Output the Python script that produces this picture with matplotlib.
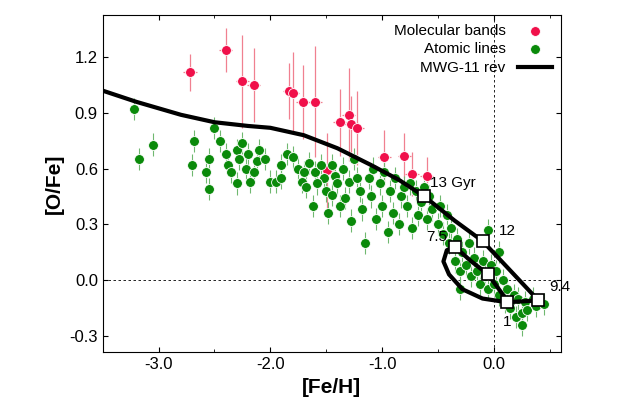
import numpy as np
import matplotlib.pyplot as plt

plt.rcParams['font.family'] = ['Liberation Sans', 'DejaVu Sans']

# molecular bands (red)
mol_feh = [-2.72, -2.40, -2.25, -2.15, -1.83, -1.80, -1.71, -1.60, -1.38, -1.30, -1.28, -1.22,
           -0.98, -0.80, -1.49, -0.60, -0.73]
mol_ofe = [1.12, 1.24, 1.07, 1.05, 1.02, 1.01, 0.96, 0.96, 0.85, 0.89, 0.84, 0.82,
           0.66, 0.67, 0.59, 0.56, 0.57]
mol_yerr = [0.10, 0.12, 0.25, 0.20, 0.15, 0.22, 0.20, 0.30, 0.18, 0.25, 0.15, 0.20,
            0.15, 0.12, 0.20, 0.10, 0.12]

# atomic lines (green)
atom = [(-3.22,0.92),(-3.18,0.65),(-3.05,0.73),(-2.7,0.62),(-2.68,0.75),(-2.58,0.58),(-2.55,0.49),
        (-2.55,0.65),(-2.5,0.82),(-2.45,0.75),(-2.4,0.68),(-2.38,0.62),(-2.35,0.58),(-2.3,0.70),
        (-2.28,0.65),(-2.25,0.74),(-2.22,0.60),(-2.2,0.68),(-2.18,0.53),(-2.15,0.58),(-2.12,0.64),
        (-2.1,0.70),(-2.05,0.65),(-2.0,0.53),(-1.95,0.53),(-1.9,0.62),(-1.85,0.68),(-1.8,0.66),
        (-1.75,0.60),(-1.72,0.53),(-1.68,0.50),(-1.65,0.63),(-1.62,0.40),(-1.6,0.58),(-1.55,0.62),
        (-1.52,0.55),(-1.5,0.48),(-1.48,0.36),(-1.45,0.62),(-1.42,0.56),(-1.4,0.52),(-1.38,0.40),
        (-1.35,0.60),(-1.33,0.44),(-1.3,0.53),(-1.28,0.32),(-1.25,0.65),(-1.22,0.55),(-1.2,0.48),
        (-1.18,0.38),(-1.15,0.20),(-1.12,0.55),(-1.1,0.45),(-1.08,0.60),(-1.05,0.33),(-1.02,0.52),
        (-1.0,0.40),(-0.98,0.58),(-0.95,0.26),(-0.93,0.48),(-0.9,0.36),(-0.88,0.55),(-0.85,0.30),
        (-0.83,0.45),(-0.8,0.50),(-0.78,0.40),(-0.75,0.52),(-0.73,0.28),(-0.7,0.48),(-0.68,0.35),
        (-0.65,0.42),(-0.62,0.50),(-0.6,0.33),(-0.58,0.45),(-0.55,0.38),(-0.5,0.30),(-0.48,0.40),
        (-0.45,0.25),(-0.42,0.35),(-0.4,0.20),(-0.38,0.28),(-0.35,0.10),(-0.33,0.22),(-0.3,0.05),
        (-0.28,0.15),(-0.25,0.08),(-0.22,0.20),(-0.2,0.02),(-0.18,0.12),(-0.15,0.05),(-0.12,-0.02),
        (-0.1,0.10),(-0.08,0.02),(-0.05,-0.05),(-0.02,0.08),(0.0,-0.02),(0.02,0.05),(0.05,-0.08),
        (0.08,0.0),(0.1,-0.12),(0.12,-0.05),(0.15,-0.15),(0.18,-0.08),(0.2,-0.2),(0.22,-0.1),
        (0.25,-0.18),(0.25,-0.24),(0.28,-0.12),(0.3,-0.16),(0.35,-0.10),(0.38,-0.14),(0.45,-0.13),
        (-1.9,0.55),(-2.3,0.52),(-1.58,0.52),(-1.7,0.58),(-0.05,0.27),(0.05,0.15),(-1.45,0.46),
        (-0.3,-0.05)]
atom_feh = [a[0] for a in atom]
atom_ofe = [a[1] for a in atom]

# MWG-11 rev model track
model_feh = [-3.6, -3.2, -2.8, -2.5, -2.2, -2.0, -1.7, -1.4, -1.1, -0.85, -0.62, -0.35, -0.1,
             0.15, 0.4, 0.12, -0.1, -0.28, -0.40, -0.45, -0.42, -0.35, -0.2, -0.05, 0.12]
model_ofe = [1.04, 0.96, 0.89, 0.85, 0.83, 0.82, 0.78, 0.71, 0.62, 0.54, 0.45, 0.32, 0.21,
             0.05, -0.11, -0.12, -0.10, -0.05, 0.03, 0.10, 0.16, 0.18, 0.10, 0.03, -0.11]
age_feh = [-0.62, -0.1, 0.4, 0.12, -0.35, -0.05]
age_ofe = [0.45, 0.21, -0.11, -0.12, 0.18, 0.03]
age_lab = ["13 Gyr", "12", "9.4", "1", "7.5", ""]
lab_pos = [(-0.57, 0.50), (0.05, 0.24), (0.5, -0.06), (0.08, -0.25), (-0.6, 0.21), (0, 0)]

fig, ax = plt.subplots(figsize=(6.23, 4.17), dpi=100)
ax.axhline(0, color='k', ls='--', lw=0.6, dashes=(3, 3))
ax.axvline(0, color='k', ls='--', lw=0.6, dashes=(3, 3))

ax.errorbar(mol_feh, mol_ofe, yerr=mol_yerr, xerr=0.06, fmt='none', ecolor='#f08090', lw=0.9)
ax.errorbar(atom_feh, atom_ofe, yerr=0.06, fmt='none', ecolor='#70b870', lw=0.8)
ax.scatter(mol_feh, mol_ofe, s=50, c='#f0104a', edgecolors='white', lw=0.6, zorder=3,
           label='Molecular bands')
ax.scatter(atom_feh, atom_ofe, s=50, c='#0a8a0a', edgecolors='white', lw=0.6, zorder=3,
           label='Atomic lines')
ax.plot(model_feh, model_ofe, color='k', lw=3, zorder=4, label='MWG-11 rev')
ax.plot(age_feh, age_ofe, 's', ms=8, mfc='white', mec='k', mew=1.2, zorder=5)
for lab, (x, y) in zip(age_lab, lab_pos):
    if lab:
        ax.text(x, y, lab, fontsize=11, zorder=6)

ax.set_xlim(-3.5, 0.6)
ax.set_ylim(-0.39, 1.43)
ax.set_xticks([-3.0, -2.0, -1.0, 0.0])
ax.set_xticks(np.arange(-3.5, 0.6, 0.5), minor=True)
ax.set_yticks([-0.3, 0.0, 0.3, 0.6, 0.9, 1.2])
ax.set_xticklabels(['-3.0', '-2.0', '-1.0', '0.0'])
ax.set_yticklabels(['-0.3', '0.0', '0.3', '0.6', '0.9', '1.2'])
ax.tick_params(direction='in', top=True, right=True, labelsize=12, which='both')
ax.set_xlabel('[Fe/H]', fontsize=15, fontweight='bold')
ax.set_ylabel('[O/Fe]', fontsize=15, fontweight='bold')
ax.legend(loc='upper right', markerfirst=False, frameon=False, fontsize=11,
          handlelength=2.2, borderaxespad=0.2, labelspacing=0.3)
fig.subplots_adjust(left=0.165, right=0.9, top=0.965, bottom=0.155)
fig.savefig('out.png')
